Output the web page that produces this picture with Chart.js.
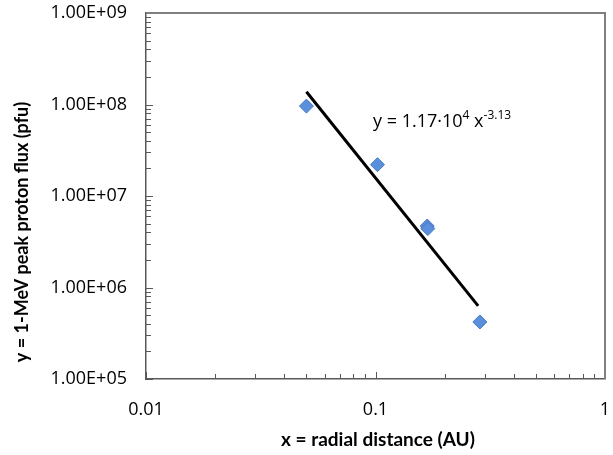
<!DOCTYPE html>
<html>
<head>
<meta charset="UTF-8">
<title>Peak proton flux vs radial distance</title>
<script src="https://cdn.jsdelivr.net/npm/chart.js"></script>
<style>
  html, body { margin: 0; padding: 0; background: #fff; }
  #wrap { width: 613px; height: 455px; }
</style>
</head>
<body>
<div id="wrap"><canvas id="grafico" width="613" height="455"></canvas></div>
<script>
  // measured points (x in AU, y in pfu)
  const distAU = [0.050, 0.102, 0.168, 0.169, 0.285];
  const fluxPfu = [9.6e7, 2.2e7, 4.7e6, 4.4e6, 4.2e5];

  // power-law fit, drawn between its two end points
  const fitX = [0.05, 0.28];
  const fitY = [1.38e8, 6.3e5];

  const xLabels = ['0.01', '0.1', '1'];
  const yLabels = ['1.00E+05', '1.00E+06', '1.00E+07', '1.00E+08', '1.00E+09'];

  const FONT = "'Open Sans', sans-serif";
  const TITLE_FONT = "Lato, 'Open Sans', sans-serif";
  const AXIS = '#595959';

  function isDecade(v) {
    const l = Math.log10(v);
    return Math.abs(l - Math.round(l)) < 1e-6;
  }

  // minor ticks inside the plot, border, titles and the equation
  const extras = {
    id: 'extras',
    afterDraw(chart) {
      const c = chart.ctx;
      const a = chart.chartArea;
      const xs = chart.scales.x, ys = chart.scales.y;
      c.save();
      c.strokeStyle = AXIS;
      c.lineWidth = 1;
      for (let d = -2; d < 0; d++) {
        for (let m = 1; m <= 9; m++) {
          const v = m * Math.pow(10, d);
          const px = Math.round(xs.getPixelForValue(v)) + 0.5;
          const len = (m === 1) ? 7 : 5;
          c.beginPath(); c.moveTo(px, a.bottom); c.lineTo(px, a.bottom - len); c.stroke();
        }
      }
      for (let d = 5; d < 9; d++) {
        for (let m = 1; m <= 9; m++) {
          const v = m * Math.pow(10, d);
          const py = Math.round(ys.getPixelForValue(v)) + 0.5;
          const len = (m === 1) ? 7 : 5;
          c.beginPath(); c.moveTo(a.left, py); c.lineTo(a.left + len, py); c.stroke();
        }
      }
      // top and right frame
      c.strokeStyle = '#7f7f7f';
      c.lineWidth = 2;
      c.beginPath();
      c.moveTo(a.left, a.top); c.lineTo(a.right, a.top); c.lineTo(a.right, a.bottom);
      c.stroke();

      // axis titles
      c.fillStyle = '#000';
      c.textAlign = 'center';
      c.textBaseline = 'middle';
      c.font = "bold 19px " + TITLE_FONT;
      c.fillText('x = radial distance (AU)', 378, 440);
      c.save();
      c.translate(22, 232);
      c.rotate(-Math.PI / 2);
      c.font = "bold 18px " + TITLE_FONT;
      c.fillText('y = 1-MeV peak proton flux (pfu)', 0, 0);
      c.restore();

      // equation with superscripts
      c.textAlign = 'left';
      c.textBaseline = 'alphabetic';
      let x = 373, base = 127;
      const parts = [['y = 1.17·10', 18, 0], ['4', 12, -8], [' x', 18, 0], ['-3.13', 12, -8]];
      parts.forEach(p => {
        c.font = p[1] + 'px ' + FONT;
        c.fillText(p[0], x, base + p[2]);
        x += c.measureText(p[0]).width;
      });
      c.restore();
    }
  };

  const ctx = document.getElementById('grafico').getContext('2d');
  const chart = new Chart(ctx, {
    type: 'scatter',
    data: {
      datasets: [
        {
          label: 'fit',
          data: fitX.map((v, i) => ({ x: v, y: fitY[i] })),
          showLine: true,
          borderColor: '#000',
          borderWidth: 3,
          pointRadius: 0,
          order: 2
        },
        {
          label: 'flux',
          data: distAU.map((v, i) => ({ x: v, y: fluxPfu[i] })),
          pointStyle: 'rectRot',
          pointRadius: 7,
          backgroundColor: '#5b8fdc',
          borderColor: '#4677c2',
          borderWidth: 1,
          order: 1
        }
      ]
    },
    options: {
      responsive: false,
      animation: false,
      layout: { padding: { top: 13, right: 0, left: 0, bottom: 0 } },
      plugins: { legend: { display: false }, tooltip: { enabled: false } },
      scales: {
        x: {
          type: 'logarithmic',
          min: 0.01, max: 1,
          border: { color: AXIS, width: 1.5 },
          grid: { display: false },
          afterFit: s => { s.height = 76; s.paddingLeft = 0; s.paddingRight = 0; },
          ticks: {
            autoSkip: false,
            maxRotation: 0,
            padding: 12,
            color: '#000',
            font: { family: FONT, size: 18 },
            callback: v => isDecade(v) ? xLabels[Math.round(Math.log10(v)) + 2] : null
          }
        },
        y: {
          type: 'logarithmic',
          min: 1e5, max: 1e9,
          border: { color: AXIS, width: 1.5 },
          grid: { display: false },
          afterFit: s => { s.width = 146; s.paddingTop = 0; s.paddingBottom = 0; },
          ticks: {
            autoSkip: false,
            padding: 11,
            color: '#000',
            font: { family: FONT, size: 18 },
            callback: v => isDecade(v) ? yLabels[Math.round(Math.log10(v)) - 5] : null
          }
        }
      }
    },
    plugins: [extras]
  });
</script>
</body>
</html>
